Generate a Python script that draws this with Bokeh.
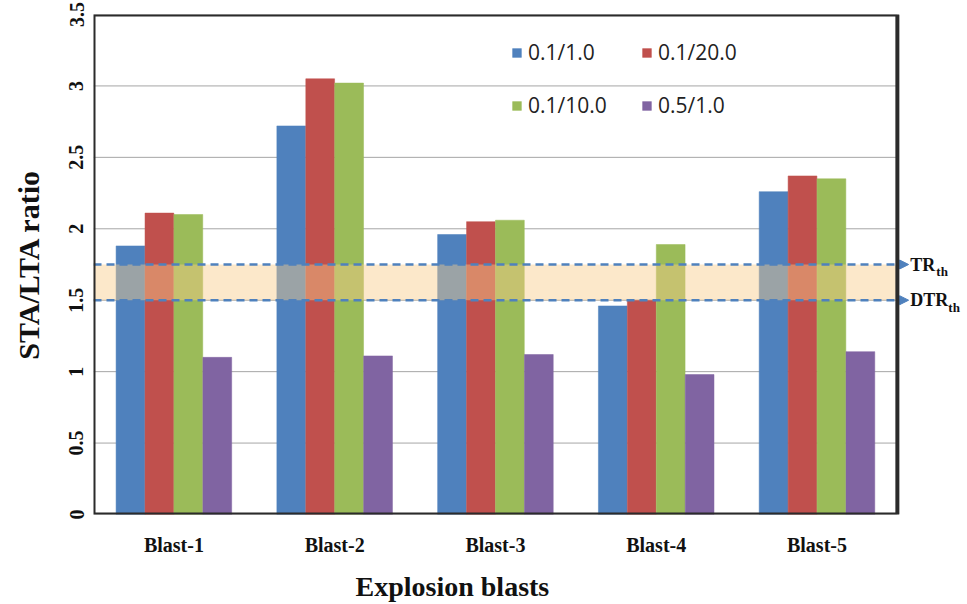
from bokeh.plotting import figure
from bokeh.models import (ColumnDataSource, Range1d, FixedTicker, Legend, LegendItem,
                          BoxAnnotation, Arrow, NormalHead, Label, Title)
from bokeh.transform import dodge
from bokeh.embed import file_html
from bokeh.resources import INLINE

# ---------------- data ----------------
blasts = ["Blast-1", "Blast-2", "Blast-3", "Blast-4", "Blast-5"]
series_names = ["0.1/1.0", "0.1/20.0", "0.1/10.0", "0.5/1.0"]
s_01_1 = [1.88, 2.72, 1.96, 1.46, 2.26]
s_01_20 = [2.11, 3.05, 2.05, 1.50, 2.37]
s_01_10 = [2.10, 3.02, 2.06, 1.89, 2.35]
s_05_1 = [1.10, 1.11, 1.12, 0.98, 1.14]
y_ticks = [0, 0.5, 1, 1.5, 2, 2.5, 3, 3.5]
y_tick_labels = ["0", "0.5", "1", "1.5", "2", "2.5", "3", "3.5"]
tr_th = 1.75
dtr_th = 1.5

colors = ["#4F81BD", "#C0504D", "#9BBB59", "#8064A2"]
SERIF = "Liberation Serif"
INK = "#111111"

n = len(blasts)
xpos = [i + 0.5 for i in range(n)]          # category centres on the numeric scale
source = ColumnDataSource(dict(x=xpos, a=s_01_1, b=s_01_20, c=s_01_10, d=s_05_1))

X_END = n + 0.43   # extra room at right for threshold labels
p = figure(x_range=Range1d(0, X_END), y_range=Range1d(y_ticks[0], y_ticks[-1]),
           frame_width=873, frame_height=500,
           min_border_left=93, min_border_right=0, min_border_top=14, min_border_bottom=90,
           output_backend="svg", toolbar_location=None, title=None)

# grid lines (only across the plotting box)
p.segment(x0=[0] * len(y_ticks), x1=[n] * len(y_ticks), y0=y_ticks, y1=y_ticks,
          line_color="#A6A6A6", line_width=1, level="underlay")

bar_w = 0.179
offsets = [-0.27, -0.09, 0.09, 0.27]
renderers = []
for col, off, c in zip(["a", "b", "c", "d"], offsets, colors):
    r = p.vbar(x=dodge("x", off), top=col, width=bar_w, source=source,
               fill_color=c, line_color=c, line_width=0.5)
    renderers.append(r)

# band between thresholds
p.add_layout(BoxAnnotation(left=0, right=n, bottom=dtr_th, top=tr_th, fill_color="#F8CB8A",
                           fill_alpha=0.45, line_color=None))

# plot box frame
p.add_layout(BoxAnnotation(left=0, right=n, bottom=y_ticks[0], top=y_ticks[-1],
                           fill_alpha=0, line_color="#2b2b2b", line_alpha=1, line_width=4,
                           level="overlay"))

blue = "#4F81BD"
for yv in [tr_th, dtr_th]:
    p.add_layout(Arrow(x_start=0, x_end=n + 0.07, y_start=yv, y_end=yv,
                       line_color=blue, line_width=2.5, line_dash="8 5",
                       end=NormalHead(size=9, fill_color=blue, line_color=blue)))

for yv, main, w in [(tr_th, "TR", 26), (dtr_th, "DTR", 38)]:
    p.add_layout(Label(x=n, y=yv, x_offset=13, text=main, text_baseline="middle",
                       text_font=SERIF, text_font_style="bold", text_font_size="18px",
                       text_color=INK))
    p.add_layout(Label(x=n, y=yv, x_offset=13 + w, y_offset=-7, text="th",
                       text_baseline="middle", text_font=SERIF, text_font_style="bold",
                       text_font_size="13px", text_color=INK))

# axes styling
p.xgrid.grid_line_color = None
p.ygrid.grid_line_color = None
p.outline_line_color = None
p.xaxis.ticker = FixedTicker(ticks=xpos)
p.xaxis.major_label_overrides = {x: b for x, b in zip(xpos, blasts)}
p.yaxis.ticker = FixedTicker(ticks=y_ticks)
p.yaxis.major_label_overrides = {t: l for t, l in zip(y_ticks, y_tick_labels)}
p.yaxis.major_label_orientation = "vertical"

for ax in [p.xaxis[0], p.yaxis[0]]:
    ax.axis_line_color = None
    ax.major_tick_line_color = None
    ax.minor_tick_line_color = None
    ax.major_label_text_font = SERIF
    ax.major_label_text_font_style = "bold"
    ax.major_label_text_color = INK
    ax.axis_label_text_font = SERIF
    ax.axis_label_text_font_style = "bold"
    ax.axis_label_text_color = INK

p.yaxis.major_label_text_font_size = "20px"
p.yaxis.major_label_standoff = 4
p.yaxis.axis_label = "STA/LTA ratio"
p.yaxis.axis_label_text_font_size = "30px"
p.yaxis.axis_label_standoff = 22

p.xaxis.major_label_text_font_size = "20px"
p.xaxis.major_label_standoff = 13

p.add_layout(Title(text="Explosion blasts", align="left", offset=262, standoff=20,
                   text_font=SERIF, text_font_style="bold", text_font_size="28px",
                   text_color=INK), "below")

# legends (two rows)
rows = [[0, 1], [2, 3]]
locs = [(418, 448), (418, 395)]
for row, loc in zip(rows, locs):
    items = [LegendItem(label=series_names[i], renderers=[renderers[i]]) for i in row]
    lg = Legend(items=items, orientation="horizontal", location=loc,
                glyph_width=11, glyph_height=11, label_standoff=6, label_width=97,
                spacing=16, padding=0, margin=0,
                background_fill_alpha=0, border_line_alpha=0,
                label_text_font="Open Sans", label_text_font_size="21px",
                label_text_color="#222222")
    p.add_layout(lg)

open("out.html", "w").write(file_html(p, INLINE))
